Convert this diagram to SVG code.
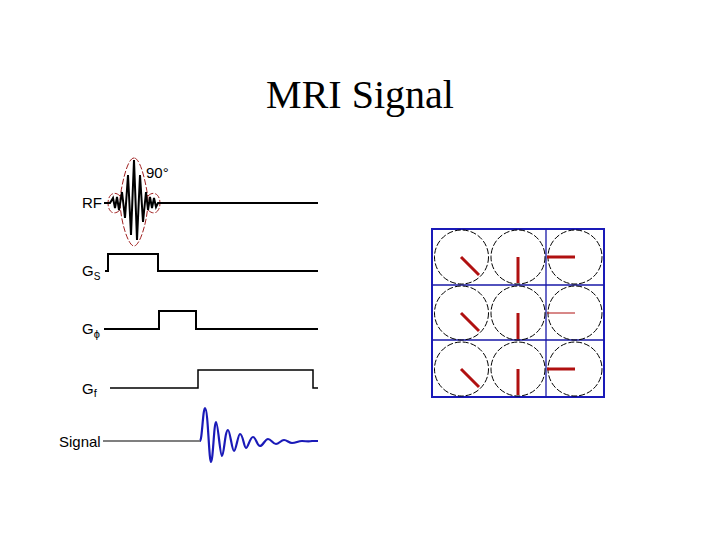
<svg xmlns="http://www.w3.org/2000/svg" width="720" height="540" viewBox="0 0 720 540">
<style>
.t{font-family:"Liberation Sans",Arial,sans-serif;font-size:15px;fill:#000}
.w{fill:none;stroke:#000;stroke-width:2}
.c{fill:none;stroke:#000;stroke-width:1;stroke-dasharray:6,2}
.v{stroke:#b01010;stroke-width:3}
.g{stroke:#1a1aa8;stroke-width:1.3}
</style>
<rect width="720" height="540" fill="#fff"/>
<text x="360" y="108" text-anchor="middle" style="font-family:'Liberation Serif','Times New Roman',serif;font-size:40px">MRI Signal</text>
<g id="rf">
<text class="t" x="82" y="208">RF</text>
<text class="t" x="146" y="178">90°</text>
<path class="c" style="stroke:#a02020" d="M134,158 C126,158 120,195 120,200 C120,220 128,246 134,246 C140,246 148,220 148,200 C148,195 142,158 134,158 Z M120,196 C114,190 108,195 108,203 C108,212 114,216 120,210 M148,196 C154,190 160,195 160,203 C160,212 154,216 148,210"/>
<path class="w" d="M104,203 L110,203 L113,198 L115,208 L117,197 L119,210 L122,192 L125,218 L128,175 L131,235 L134,160 L137,240 L140,175 L143,222 L146,192 L148,210 L150,197 L152,208 L154,198 L156,207 L158,203 L318,203"/>
</g>
<g id="gs">
<text class="t" x="82" y="276">G<tspan font-size="10" dy="4">S</tspan></text>
<path class="w" d="M105,271 L108,271 L108,254 L158,254 L158,271 L318,271"/>
</g>
<g id="gphi">
<text class="t" x="82" y="334">G<tspan font-size="11" dy="4">ϕ</tspan></text>
<path class="w" d="M104,329 L159,329 L159,311 L196,311 L196,329 L318,329"/>
</g>
<g id="gf">
<text class="t" x="82" y="394">G<tspan font-size="11" dy="3">f</tspan></text>
<path class="w" style="stroke-width:1.5" d="M110,388 L198,388 L198,370 L313,370 L313,388 L318,388"/>
</g>
<g id="signal">
<text class="t" x="59" y="447">Signal</text>
<path fill="none" stroke="#000" stroke-width="1.2" d="M103,441 L200,441"/>
<path fill="none" stroke="#1a1ab8" stroke-width="2.2" d="M200,441 C202,441 203,408 205,408 C208,408 209,462 211,462 C213,462 214,422 216,422 C218,422 220,456 222,456 C224,456 225,430 228,430 C230,430 232,451 234,451 C236,451 238,434 240,434 C243,434 244,448 246,448 C248,448 250,437 253,437 C256,437 257,446 260,446 C263,446 265,439 268,439 C271,439 273,444 276,444 C279,444 281,440 284,440 C287,440 289,443 292,443 C296,443 298,441 302,441 C306,441 308,442 312,441 L318,441"/>
</g>
<g id="grid">
<rect x="432" y="229" width="172" height="168" fill="none" stroke="#1a1ab8" stroke-width="2"/>
<path class="g" d="M432,285 H604 M432,340 H604 M546,229 V397"/>
<circle class="c" cx="461.5" cy="257" r="27"/><circle class="c" cx="518" cy="257" r="27"/><circle class="c" cx="575" cy="257" r="27"/>
<circle class="c" cx="461.5" cy="313" r="27"/><circle class="c" cx="518" cy="313" r="27"/><circle class="c" cx="575" cy="313" r="27"/>
<circle class="c" cx="461.5" cy="369" r="27"/><circle class="c" cx="518" cy="369" r="27"/><circle class="c" cx="575" cy="369" r="27"/>
<path class="v" d="M461,257 L479,275 M518,257 V283 M547,257 H575"/>
<path class="v" d="M461,313 L479,331 M518,313 V339"/>
<path stroke="#b01010" stroke-width="1" d="M547,313 H575"/>
<path class="v" d="M461,369 L479,387 M518,369 V395 M547,369 H575"/>
</g>
</svg>
